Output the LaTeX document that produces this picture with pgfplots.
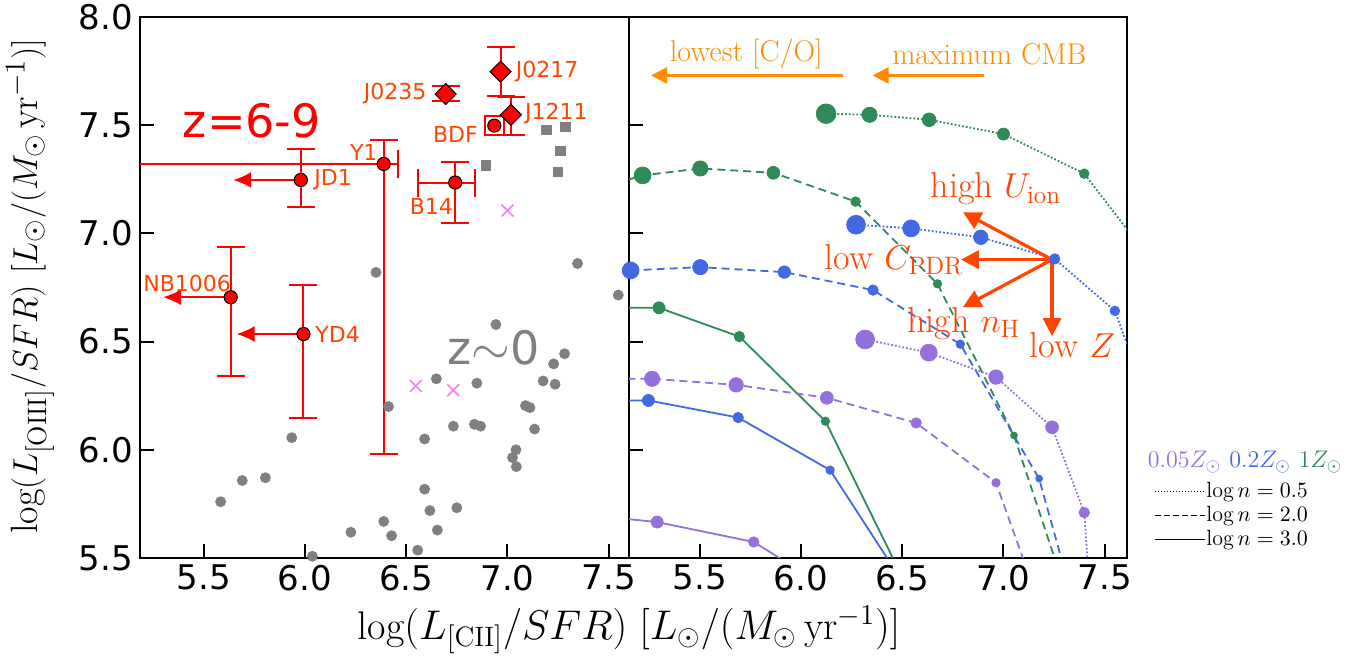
\documentclass[border=0pt]{standalone}
\usepackage{pgfplots}
\pgfplotsset{compat=1.18}
\usepackage{fontspec}
\usetikzlibrary{arrows.meta}
\newfontfamily\dejavu{DejaVu Sans}
\definecolor{cgreen}{HTML}{2E8B57}
\definecolor{cblue}{HTML}{4169E1}
\definecolor{cpurp}{HTML}{9370DB}
\definecolor{cgray}{HTML}{808080}
\definecolor{cviol}{HTML}{EE82EE}
\definecolor{corange}{HTML}{FF8C00}
\definecolor{cored}{HTML}{FF4500}
\tikzset{lab/.style={font=\dejavu\fontsize{11}{11}\selectfont, text=cored, inner sep=1pt}}
\pgfplotsset{
  base/.style={scale only axis, height=270.5pt, ymin=5.5, ymax=8.0,
    tick align=inside, major tick length=7pt, xtick pos=bottom, ytick pos=left,
    axis line style={line width=1pt}, every tick/.style={black, line width=1pt},
    xtick={5.5,6.0,6.5,7.0,7.5}, ytick={5.5,6.0,6.5,7.0,7.5,8.0},
    /pgf/number format/assume math mode=true,
    /pgf/number format/fixed, /pgf/number format/fixed zerofill, /pgf/number format/precision=1,
    ticklabel style={font=\dejavu\fontsize{17}{17}\selectfont},
    clip=true},
  mmarks/.style={only marks, scatter, mark=*, point meta=\thisrow{s},
    scatter/use mapped color={draw=#1, fill=#1},
    visualization depends on={\thisrow{s}\as\ms},
    scatter/@pre marker code/.append style={/tikz/mark size=\ms pt}},
  eb/.style={red, line width=1pt, mark=*, mark size=3.3pt, mark options={fill=red, draw=black, line width=0.5pt, solid},
    error bars/y dir=both, error bars/y explicit, error bars/error mark=|,
    error bars/error bar style={red, line width=1pt}, error bars/error mark options={red, mark size=7pt, line width=1pt}},
  ebx/.style={eb, error bars/x dir=both, error bars/x explicit},
  dia/.style={eb, mark=square*, mark size=3.7pt, mark options={fill=red, draw=black, line width=0.5pt, solid, rotate=45}},
}
\begin{document}
\begin{tikzpicture}
\path[use as bounding box] (-70pt,-50pt) rectangle (616pt,279pt);
% ---------------- left panel
\begin{axis}[base, at={(0pt,0pt)}, anchor=south west, width=244.5pt, xmin=5.186, xmax=7.60]
\addplot[only marks, mark=*, mark size=2.5pt, cgray] coordinates {
(6.351,6.820) (7.346,6.861) (7.547,6.715) (6.943,6.579) (7.282,6.444) (7.228,6.397)
(7.176,6.318) (7.235,6.303) (6.649,6.328) (6.849,6.308) (6.413,6.200) (7.089,6.204)
(7.111,6.195) (6.733,6.109) (6.837,6.118) (6.867,6.109) (7.134,6.096) (6.591,6.050)
(5.935,6.056) (7.042,6.000) (7.025,5.964) (7.044,5.922) (5.691,5.858) (5.805,5.871)
(5.584,5.760) (6.591,5.818) (6.617,5.719) (6.750,5.732) (6.389,5.669) (6.227,5.619)
(6.428,5.603) (6.654,5.629) (6.557,5.536) (6.037,5.508) (6.040,5.49)};
\addplot[only marks, mark=square*, mark size=2.4pt, cgray] coordinates {
(7.193,7.478) (7.285,7.492) (7.260,7.381) (7.248,7.285) (6.893,7.313)};
\addplot[only marks, mark=x, mark size=4.2pt, cviol, line width=0.8pt] coordinates {
(7.000,7.106) (6.547,6.295) (6.732,6.275)};
\addplot[red, line width=1pt, -{Latex[length=9pt,width=8pt]}] coordinates {(5.980,7.247) (5.646,7.247)};
\addplot[red, line width=1pt, -{Latex[length=9pt,width=8pt]}] coordinates {(5.634,6.705) (5.300,6.705)};
\addplot[red, line width=1pt, -{Latex[length=9pt,width=8pt]}] coordinates {(5.993,6.535) (5.663,6.535)};
\addplot[eb] coordinates {(5.980,7.247) += (0,0.143) -= (0,0.127)};
\addplot[ebx] coordinates {(6.389,7.321) += (0.071,0.109) -= (2.0,1.341)};
\addplot[eb] coordinates {(5.634,6.705) += (0,0.230) -= (0,0.362)};
\addplot[eb] coordinates {(5.993,6.535) += (0,0.227) -= (0,0.389)};
\addplot[ebx] coordinates {(6.742,7.235) += (0.098,0.095) -= (0.185,0.187)};
\addplot[only marks, mark=square, mark size=4.8pt, red, line width=1pt] coordinates {(6.935,7.498)};
\addplot[only marks, mark=*, mark size=3.3pt, mark options={fill=red, draw=black, line width=0.5pt}] coordinates {(6.935,7.498)};
\addplot[dia] coordinates {(6.695,7.644) += (0,0.036) -= (0,0.034)};
\addplot[dia] coordinates {(6.966,7.747) += (0,0.116) -= (0,0.111)};
\addplot[dia] coordinates {(7.017,7.548) += (0,0.084) -= (0,0.091)};
\node[lab, anchor=west] at (axis cs:7.03,7.75) {J0217};
\node[lab, anchor=east] at (axis cs:6.611,7.644) {J0235};
\node[lab, anchor=west] at (axis cs:7.075,7.553) {J1211};
\node[lab, anchor=east] at (axis cs:6.865,7.459) {BDF};
\node[lab, anchor=east] at (axis cs:6.37,7.374) {Y1};
\node[lab, anchor=west] at (axis cs:6.035,7.247) {JD1};
\node[lab] at (axis cs:6.624,7.126) {B14};
\node[lab] at (axis cs:5.419,6.767) {NB1006};
\node[lab, anchor=west] at (axis cs:6.040,6.535) {YD4};
\node[font=\dejavu\fontsize{23}{23}\selectfont, text=red] at (axis cs:5.738,7.52) {z=6-9};
\node[font=\dejavu\fontsize{23}{23}\selectfont, text=cgray] at (axis cs:6.93,6.47) {z$\sim$0};
\end{axis}
% ---------------- right panel
\begin{axis}[base, at={(244.5pt,0pt)}, anchor=south west, width=249pt, xmin=5.151, xmax=7.61, yticklabels={}]
\pgfplotstableread{
x y s
6.124 7.553 4.9
6.339 7.548 3.8
6.633 7.525 3.4
7.000 7.459 3.0
7.399 7.276 2.4
7.654 6.965 0
}\gdot
\pgfplotstableread{
x y s
5.143 7.247 0
5.218 7.268 4.2
5.503 7.300 3.8
5.864 7.280 3.2
6.270 7.147 2.4
6.674 6.767 2.1
7.052 6.066 1.7
7.270 5.450 0
}\gdash
\pgfplotstableread{
x y s
5.143 6.656 0
5.299 6.656 3.0
5.696 6.523 2.6
6.121 6.132 2.1
6.480 5.450 0
}\gsol
\pgfplotstableread{
x y s
6.272 7.040 4.7
6.544 7.023 4.2
6.888 6.982 3.6
7.253 6.882 2.6
7.550 6.642 2.4
7.654 6.377 0
}\bdot
\pgfplotstableread{
x y s
5.159 6.829 4.2
5.503 6.844 3.8
5.918 6.821 3.1
6.356 6.738 2.6
6.787 6.488 2.1
7.176 5.867 1.7
7.300 5.450 0
}\bdash
\pgfplotstableread{
x y s
5.143 6.228 0
5.247 6.228 3.0
5.690 6.149 2.6
6.144 5.906 2.1
6.460 5.450 0
}\bsol
\pgfplotstableread{
x y s
6.317 6.510 4.7
6.631 6.449 4.2
6.963 6.336 3.6
7.240 6.104 3.2
7.399 5.710 2.6
7.418 5.450 0
}\pdot
\pgfplotstableread{
x y s
5.143 6.328 0
5.265 6.328 3.8
5.680 6.300 3.6
6.128 6.240 3.2
6.569 6.124 2.6
6.963 5.848 2.1
7.115 5.450 0
}\pdash
\pgfplotstableread{
x y s
5.143 5.680 0
5.290 5.666 3.0
5.767 5.574 2.6
5.980 5.450 0
}\psol
\addplot[cgreen, line width=0.9pt, densely dotted] table {\gdot};
\addplot[mmarks=cgreen] table {\gdot};
\addplot[cgreen, line width=0.9pt, dash pattern=on 4pt off 2.5pt] table {\gdash};
\addplot[mmarks=cgreen] table {\gdash};
\addplot[cgreen, line width=0.9pt] table {\gsol};
\addplot[mmarks=cgreen] table {\gsol};
\addplot[cblue, line width=0.9pt, densely dotted] table {\bdot};
\addplot[mmarks=cblue] table {\bdot};
\addplot[cblue, line width=0.9pt, dash pattern=on 4pt off 2.5pt] table {\bdash};
\addplot[mmarks=cblue] table {\bdash};
\addplot[cblue, line width=0.9pt] table {\bsol};
\addplot[mmarks=cblue] table {\bsol};
\addplot[cpurp, line width=0.9pt, densely dotted] table {\pdot};
\addplot[mmarks=cpurp] table {\pdot};
\addplot[cpurp, line width=0.9pt, dash pattern=on 4pt off 2.5pt] table {\pdash};
\addplot[mmarks=cpurp] table {\pdash};
\addplot[cpurp, line width=0.9pt] table {\psol};
\addplot[mmarks=cpurp] table {\psol};
\addplot[corange, line width=1.3pt, -{Triangle[length=8pt,width=8pt]}] coordinates {(6.208,7.73) (5.26,7.73)};
\addplot[corange, line width=1.3pt, -{Triangle[length=8pt,width=8pt]}] coordinates {(6.904,7.73) (6.354,7.73)};
\node[text=corange, font=\fontsize{15}{15}\selectfont] at (axis cs:5.73,7.83) {lowest [C/O]};
\node[text=corange, font=\fontsize{15}{15}\selectfont] at (axis cs:6.93,7.83) {maximum CMB};
\addplot[cored, line width=1.6pt, -{Triangle[length=9pt,width=9pt]}] coordinates {(7.24,6.879) (6.80,7.098)};
\addplot[cored, line width=1.6pt, -{Triangle[length=9pt,width=9pt]}] coordinates {(7.24,6.879) (6.79,6.879)};
\addplot[cored, line width=1.6pt, -{Triangle[length=9pt,width=9pt]}] coordinates {(7.24,6.879) (6.80,6.659)};
\addplot[cored, line width=1.6pt, -{Triangle[length=9pt,width=9pt]}] coordinates {(7.24,6.879) (7.24,6.525)};
\node[text=cored, font=\fontsize{18}{18}\selectfont] at (axis cs:6.963,7.205) {high $U_{\rm ion}$};
\node[text=cored, font=\fontsize{18}{18}\selectfont] at (axis cs:6.46,6.877) {low $C_{\rm PDR}$};
\node[text=cored, font=\fontsize{18}{18}\selectfont] at (axis cs:6.804,6.584) {high $n_{\rm H}$};
\node[text=cored, font=\fontsize{18}{18}\selectfont] at (axis cs:7.34,6.485) {low $Z$};
\end{axis}
\node[font=\fontsize{20}{20}\selectfont] at (244.5pt,-36pt) {$\log(L_{\rm [CII]}/SFR)\ [L_\odot/(M_\odot\,{\rm yr}^{-1})]$};
\node[font=\fontsize{19}{19}\selectfont, rotate=90] at (-55pt,136pt) {$\log(L_{\rm [OIII]}/SFR)\ [L_\odot/(M_\odot\,{\rm yr}^{-1})]$};
\node[font=\fontsize{12.5}{12.5}\selectfont] at (552.5pt,48pt) {$\color{cpurp}0.05Z_\odot$ $\color{cblue}0.2Z_\odot$ $\color{cgreen}1Z_\odot$};
\draw[black, line width=0.5pt, densely dotted] (507.5pt,33pt) -- (532.5pt,33pt);
\draw[black, line width=0.5pt, dash pattern=on 3pt off 1.5pt] (507.5pt,21pt) -- (532.5pt,21pt);
\draw[black, line width=0.5pt] (507.5pt,9pt) -- (532.5pt,9pt);
\node[anchor=west, font=\fontsize{11}{11}\selectfont, inner sep=0.5pt] at (532.5pt,33pt) {$\log n = 0.5$};
\node[anchor=west, font=\fontsize{11}{11}\selectfont, inner sep=0.5pt] at (532.5pt,21pt) {$\log n = 2.0$};
\node[anchor=west, font=\fontsize{11}{11}\selectfont, inner sep=0.5pt] at (532.5pt,9pt) {$\log n = 3.0$};
\end{tikzpicture}
\end{document}
